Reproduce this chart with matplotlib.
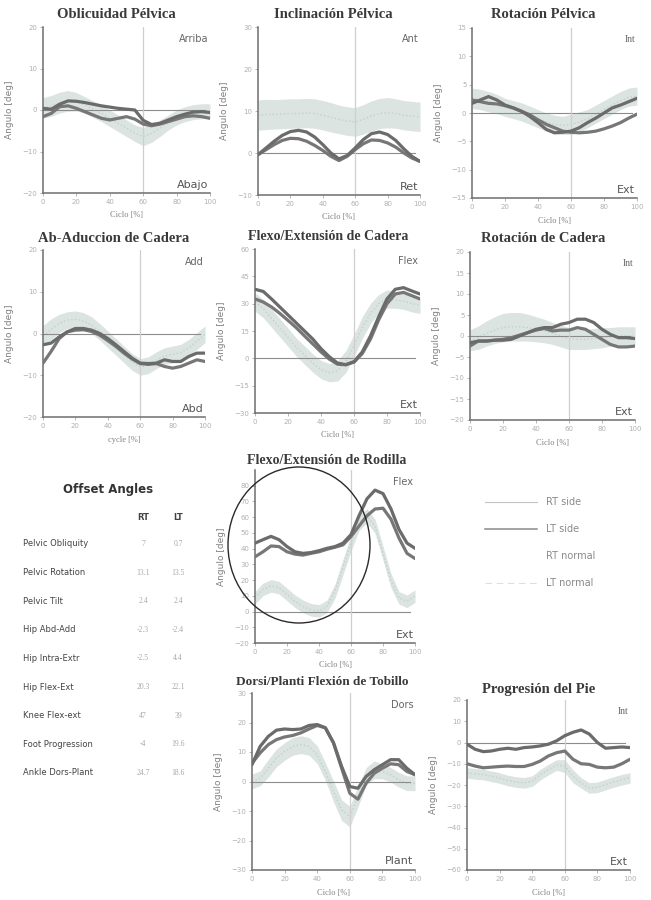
import numpy as np
import matplotlib
matplotlib.use('Agg')
import matplotlib.pyplot as plt
from matplotlib.patches import Ellipse
from matplotlib.lines import Line2D

#========================= Data ===============================================
cycle = np.arange(0, 101, 5)

# Oblicuidad Pelvica
obl_rt = [0.4, 0.2, 1.4, 2.2, 2.1, 1.8, 1.4, 1.0, 0.7, 0.4, 0.2, 0.0, -2.5, -3.5, -3.2, -2.4, -1.6, -1.0, -0.5, -0.4, -0.6]
obl_lt = [-1.6, -0.8, 0.8, 1.0, 0.4, -0.4, -1.2, -2.0, -2.4, -2.0, -1.6, -2.2, -3.4, -3.8, -3.4, -2.8, -2.2, -1.6, -1.4, -1.6, -2.0]
obl_nm = [0.5, 1.0, 1.8, 2.2, 2.0, 1.2, 0.2, -0.8, -2.0, -3.2, -4.4, -5.6, -6.4, -5.6, -4.4, -3.0, -1.8, -1.0, -0.5, -0.3, -0.3]
obl_sd = [2.5, 2.5, 2.5, 2.5, 2.2, 2.0, 2.0, 2.0, 2.0, 2.0, 2.0, 2.0, 2.2, 2.2, 2.0, 1.8, 1.8, 1.8, 1.8, 1.8, 1.8]

# Inclinacion Pelvica
tilt_rt = [-0.4, 1.2, 2.8, 4.2, 5.1, 5.4, 5.0, 3.8, 2.0, 0.0, -1.4, -0.6, 1.2, 3.2, 4.6, 5.0, 4.4, 3.0, 1.0, -0.8, -2.0]
tilt_lt = [-0.4, 0.8, 2.0, 3.0, 3.5, 3.4, 2.8, 1.8, 0.6, -0.8, -1.8, -0.8, 0.8, 2.2, 3.1, 3.0, 2.4, 1.4, 0.0, -1.2, -2.0]
tilt_nm = [9.0, 9.2, 9.2, 9.3, 9.4, 9.4, 9.5, 9.4, 9.0, 8.5, 8.0, 7.6, 7.4, 8.0, 8.8, 9.4, 9.6, 9.4, 9.0, 8.8, 8.6]
tilt_sd = [3.6, 3.6, 3.5, 3.5, 3.5, 3.5, 3.5, 3.5, 3.5, 3.5, 3.4, 3.4, 3.4, 3.5, 3.6, 3.6, 3.6, 3.5, 3.5, 3.5, 3.5]

# Rotacion Pelvica
prot_rt = [1.7, 2.3, 2.9, 2.3, 1.4, 0.9, 0.3, -0.6, -1.7, -2.9, -3.5, -3.4, -3.2, -2.6, -1.7, -0.9, 0.0, 0.9, 1.4, 2.0, 2.6]
prot_lt = [2.3, 2.0, 1.7, 1.6, 1.3, 0.9, 0.3, -0.3, -1.2, -2.0, -2.6, -3.2, -3.4, -3.5, -3.4, -3.2, -2.8, -2.3, -1.7, -0.9, -0.2]
prot_nm = [2.6, 2.4, 2.0, 1.6, 1.0, 0.6, 0.2, -0.4, -1.0, -1.6, -2.0, -2.2, -2.0, -1.6, -1.0, -0.2, 0.6, 1.4, 2.2, 2.8, 3.0]
prot_sd = [1.8, 1.8, 1.8, 1.7, 1.6, 1.6, 1.6, 1.6, 1.6, 1.6, 1.6, 1.6, 1.8, 1.8, 1.6, 1.6, 1.6, 1.6, 1.6, 1.6, 1.6]

# Ab-Aduccion de Cadera
abd_rt = [-2.7, -2.3, -0.8, 0.4, 1.2, 1.2, 0.8, 0.0, -1.2, -2.7, -4.3, -5.9, -7.1, -7.2, -7.1, -6.3, -6.7, -6.7, -5.5, -4.7, -4.7]
abd_lt = [-7.1, -4.3, -1.2, 0.4, 0.8, 0.9, 0.5, -0.4, -1.7, -3.1, -4.7, -6.1, -7.2, -7.4, -7.2, -7.9, -8.3, -7.9, -7.1, -6.3, -6.7]
abd_nm = [-0.6, 1.0, 2.4, 3.2, 3.4, 3.0, 2.0, 0.4, -1.4, -3.2, -5.0, -6.8, -8.0, -7.6, -6.4, -5.4, -5.0, -4.6, -3.4, -1.8, -0.2]
abd_sd = [2.5, 2.5, 2.2, 2.0, 2.0, 2.0, 2.0, 2.0, 2.0, 2.0, 2.0, 2.0, 2.0, 2.0, 2.0, 2.0, 2.0, 2.0, 2.0, 2.0, 2.0]

# Flexo/Extension de Cadera
hflx_rt = [37.9, 36.7, 32.6, 28.2, 23.8, 19.4, 15.0, 10.6, 5.3, 0.9, -2.6, -3.5, -1.8, 3.5, 12.3, 22.9, 32.6, 37.9, 38.8, 37.0, 35.3]
hflx_lt = [32.6, 30.9, 28.2, 24.7, 20.8, 16.8, 12.3, 7.9, 3.5, -0.4, -3.2, -3.5, -2.1, 2.6, 10.6, 21.2, 30.0, 35.3, 36.2, 34.4, 32.6]
hflx_nm = [30.9, 27.3, 22.0, 16.8, 11.5, 6.2, 1.8, -2.6, -6.2, -7.9, -7.0, -1.8, 7.0, 16.8, 24.7, 30.0, 32.6, 32.0, 31.4, 30.0, 29.1]
hflx_sd = [5.0, 5.0, 5.0, 5.0, 5.0, 5.0, 5.0, 5.0, 5.0, 5.0, 5.5, 6.0, 6.0, 6.0, 5.5, 5.0, 5.0, 4.5, 4.5, 4.5, 4.5]

# Rotacion de Cadera
hrot_rt = [-1.6, -1.2, -1.2, -1.0, -1.0, -0.8, 0.0, 0.8, 1.6, 2.0, 2.0, 2.8, 3.2, 4.0, 4.0, 3.2, 1.6, 0.4, -0.4, -0.4, -0.6]
hrot_lt = [-2.4, -1.2, -1.2, -1.0, -0.8, -0.4, 0.2, 0.8, 1.4, 1.8, 1.2, 1.4, 1.4, 2.0, 1.6, 0.4, -0.8, -2.0, -2.6, -2.6, -2.4]
hrot_nm = [-1.0, -0.4, 0.6, 1.4, 2.0, 2.2, 2.2, 2.0, 1.6, 1.2, 0.6, 0.0, -0.6, -0.8, -0.8, -0.6, -0.4, -0.2, 0.0, 0.0, 0.0]
hrot_sd = [2.5, 2.8, 3.0, 3.2, 3.4, 3.4, 3.4, 3.2, 3.0, 2.8, 2.6, 2.6, 2.6, 2.4, 2.4, 2.4, 2.4, 2.2, 2.2, 2.2, 2.2]

# Flexo/Extension de Rodilla
knee_rt = [43.5, 45.7, 47.8, 45.7, 41.3, 38.0, 37.0, 37.5, 38.7, 40.2, 41.3, 43.5, 48.9, 60.9, 71.7, 77.2, 75.0, 65.2, 52.2, 43.5, 40.2]
knee_lt = [34.8, 38.0, 41.7, 41.3, 38.0, 36.5, 35.9, 37.0, 38.0, 39.6, 40.9, 42.4, 47.8, 54.3, 60.9, 65.2, 65.7, 58.7, 46.7, 37.0, 33.7]
knee_nm = [8.7, 14.1, 16.3, 15.2, 10.9, 6.5, 3.3, 1.1, 0.4, 3.3, 13.0, 28.3, 43.5, 56.5, 60.9, 54.3, 37.0, 19.6, 8.7, 6.5, 9.8]
knee_sd = [4.0, 4.0, 4.0, 4.0, 4.0, 4.0, 4.0, 4.0, 4.0, 4.0, 4.5, 5.0, 5.0, 5.0, 4.5, 4.5, 4.5, 4.5, 4.0, 4.0, 4.0]

# Dorsi/Planti Flexion de Tobillo
ank_rt = [5.7, 11.9, 15.3, 17.4, 17.8, 17.6, 17.8, 19.0, 19.3, 18.2, 13.1, 5.1, -1.7, -2.3, 1.7, 4.0, 5.7, 7.4, 7.4, 4.5, 2.3]
ank_lt = [6.2, 9.7, 12.5, 14.2, 15.1, 15.6, 16.5, 17.8, 19.0, 18.2, 13.1, 4.5, -4.0, -6.0, -0.6, 2.8, 4.5, 6.0, 5.7, 3.4, 2.3]
ank_nm = [0.0, 1.1, 4.5, 8.0, 10.2, 11.9, 12.5, 11.9, 9.1, 3.4, -3.4, -9.7, -11.9, -5.1, 1.7, 4.0, 3.4, 2.3, 0.6, -0.6, -0.6]
ank_sd = [2.5, 2.5, 3.0, 3.0, 3.0, 3.0, 3.0, 3.0, 3.0, 3.0, 3.5, 3.5, 3.5, 3.5, 3.0, 3.0, 2.5, 2.5, 2.5, 2.5, 2.5]

# Progresion del Pie
foot_rt = [-0.8, -3.2, -4.3, -4.0, -3.2, -2.7, -3.2, -2.4, -2.1, -1.6, -0.8, 0.8, 3.2, 4.8, 5.9, 4.0, 0.0, -2.7, -2.4, -2.1, -2.4]
foot_lt = [-10.0, -11.1, -11.9, -11.6, -11.3, -11.1, -11.3, -11.3, -10.3, -8.7, -6.3, -4.8, -4.0, -7.9, -10.0, -10.3, -11.6, -11.9, -11.6, -10.0, -7.9]
foot_nm = [-14.3, -14.8, -15.1, -15.9, -16.7, -17.9, -18.6, -19.0, -18.2, -15.1, -12.7, -10.6, -11.1, -15.9, -19.0, -21.4, -21.1, -19.8, -18.6, -17.5, -16.7]
foot_sd = [2.5, 2.5, 2.5, 2.5, 2.5, 2.5, 2.5, 2.5, 2.5, 2.5, 2.5, 2.5, 3.0, 3.0, 2.5, 2.5, 2.5, 2.5, 2.5, 2.5, 2.5]

# Offset angles table
offset_names = ['Pelvic Obliquity', 'Pelvic Rotation', 'Pelvic Tilt', 'Hip Abd-Add',
                'Hip Intra-Extr', 'Hip Flex-Ext', 'Knee Flex-ext', 'Foot Progression',
                'Ankle Dors-Plant']
offset_rt = ['7', '13.1', '2.4', '-2.3', '-2.5', '20.3', '47', '-4', '24.7']
offset_lt = ['0.7', '13.5', '2.4', '-2.4', '4.4', '22.1', '39', '19.6', '18.6']

legend_labels = ['RT side', 'LT side', 'RT normal', 'LT normal']

#========================= Figure ============================================
W, H = 651, 900
fig = plt.figure(figsize=(W / 100, H / 100), dpi=100)
fig.patch.set_facecolor('white')

SERIF = 'Liberation Serif'
SANS = 'DejaVu Sans'


def fx(x):
    return x / W


def fy(y):
    return 1 - y / H


def panel(box, title, tpos, rt, lt, nm, sd, ylim, yticks, top_lbl, bot_lbl,
          xlabel='Ciclo [%]', tsize=10.5, top_serif=False):
    l, t, r, b = box
    ax = fig.add_axes([fx(l), fy(b), fx(r - l), (b - t) / H])
    nm = np.array(nm)
    sd = np.array(sd)
    ax.fill_between(cycle, nm - sd, nm + sd, color='#dbe4e0', lw=0, zorder=1)
    ax.plot(cycle, nm, color='#c3d0ca', lw=1.0, ls=':', zorder=2)
    ax.axhline(0, xmin=0, xmax=0.97, color='#8c8c8c', lw=0.8, zorder=2)
    ax.axvline(60, color='#cfcfcf', lw=0.9, zorder=2)
    ax.plot(cycle, rt, color='#6b6b6b', lw=2.3, zorder=4, solid_capstyle='round')
    ax.plot(cycle, lt, color='#777777', lw=2.3, zorder=3, solid_capstyle='round')
    ax.set_xlim(0, 100)
    ax.set_ylim(*ylim)
    ax.set_xticks([0, 20, 40, 60, 80, 100])
    ax.set_yticks(yticks)
    for s in ['top', 'right']:
        ax.spines[s].set_visible(False)
    for s in ['left', 'bottom']:
        ax.spines[s].set_color('#6e6e6e')
        ax.spines[s].set_linewidth(1.1)
    ax.tick_params(length=2, width=0.6, color='#aaaaaa', labelsize=5,
                   labelcolor='#b0b0b0', pad=2)
    ax.set_ylabel('Angulo [deg]', fontsize=6.5, color='#808080', family=SANS, labelpad=6)
    ax.set_xlabel(xlabel, fontsize=6, color='#808080', family=SERIF, labelpad=5)
    ax.text(0.99, 0.96, top_lbl, transform=ax.transAxes, ha='right', va='top',
            fontsize=7, color='#666666', family=SERIF if top_serif else SANS)
    ax.text(0.99, 0.02, bot_lbl, transform=ax.transAxes, ha='right', va='bottom',
            fontsize=8, color='#555555', family=SANS)
    fig.text(fx(tpos[0]), fy(tpos[1]), title, ha='center', va='center',
             fontsize=tsize, fontweight='bold', family=SERIF, color='#3a3a3a')
    return ax


#========================= Row 1: pelvis =====================================
panel((43, 27, 210, 193), 'Oblicuidad Pélvica', (116, 15), obl_rt, obl_lt, obl_nm, obl_sd,
      (-20, 20), [-20, -10, 0, 10, 20], 'Arriba', 'Abajo')
panel((258, 27, 420, 195), 'Inclinación Pélvica', (333, 15), tilt_rt, tilt_lt, tilt_nm, tilt_sd,
      (-10, 30), [-10, 0, 10, 20, 30], 'Ant', 'Ret')
panel((472, 28, 637, 198), 'Rotación Pélvica', (543, 15), prot_rt, prot_lt, prot_nm, prot_sd,
      (-15, 15), [-15, -10, -5, 0, 5, 10, 15], 'Int', 'Ext', top_serif=True)

#========================= Row 2: hip ========================================
panel((43, 250, 205, 417), 'Ab-Aduccion de Cadera', (114, 239), abd_rt, abd_lt, abd_nm, abd_sd,
      (-20, 20), [-20, -10, 0, 10, 20], 'Add', 'Abd', xlabel='cycle [%]')
hax = panel((255, 249, 420, 413), 'Flexo/Extensión de Cadera', (328, 236), hflx_rt, hflx_lt, hflx_nm, hflx_sd,
            (-30, 60), [-30, -15, 0, 15, 30, 45, 60], 'Flex', 'Ext', tsize=10)
panel((470, 252, 635, 420), 'Rotación de Cadera', (543, 239), hrot_rt, hrot_lt, hrot_nm, hrot_sd,
      (-20, 20), [-20, -15, -10, -5, 0, 5, 10, 15, 20], 'Int', 'Ext', top_serif=True)

#========================= Row 3: knee + table + legend ======================
panel((255, 470, 415, 643), 'Flexo/Extensión de Rodilla', (327, 461), knee_rt, knee_lt, knee_nm, knee_sd,
      (-20, 90), [-20, -10, 0, 10, 20, 30, 40, 50, 60, 70, 80], 'Flex', 'Ext', tsize=10)
fig.add_artist(Ellipse((fx(299), fy(545)), 142 / W, 156 / H, transform=fig.transFigure,
                       fill=False, edgecolor='#2a2a2a', lw=1.0, zorder=10))

fig.text(fx(108), fy(490), 'Offset Angles', ha='center', va='center', fontsize=8.5,
         fontweight='bold', family=SANS, color='#333333')
fig.text(fx(143), fy(517), 'RT', ha='center', va='center', fontsize=6, fontweight='bold',
         family=SANS, color='#444444')
fig.text(fx(178), fy(517), 'LT', ha='center', va='center', fontsize=6, fontweight='bold',
         family=SANS, color='#444444')
for i, name in enumerate(offset_names):
    y = 544 + i * 28.6
    fig.text(fx(23), fy(y), name, ha='left', va='center', fontsize=6, family=SANS, color='#444444')
    fig.text(fx(143), fy(y), offset_rt[i], ha='center', va='center', fontsize=5.5, family=SERIF,
             color='#a8a8a8')
    fig.text(fx(178), fy(y), offset_lt[i], ha='center', va='center', fontsize=5.5, family=SERIF,
             color='#a8a8a8')

leg_style = [dict(color='#c4c4c4', lw=0.8, ls='-'),
             dict(color='#8a8a8a', lw=1.1, ls='-'),
             dict(color='#ffffff', lw=0.8, ls='-'),
             dict(color='#dedede', lw=0.8, ls=(0, (6, 4)))]
for i, lab in enumerate(legend_labels):
    y = 502 + i * 27
    fig.add_artist(Line2D([fx(485), fx(537)], [fy(y), fy(y)], transform=fig.transFigure, **leg_style[i]))
    fig.text(fx(546), fy(y), lab, ha='left', va='center', fontsize=7, family=SANS, color='#8a8a8a')

#========================= Row 4: ankle + foot ===============================
panel((252, 693, 415, 870), 'Dorsi/Planti Flexión de Tobillo', (322, 682), ank_rt, ank_lt, ank_nm, ank_sd,
      (-30, 30), [-30, -20, -10, 0, 10, 20, 30], 'Dors', 'Plant', tsize=9.5)
panel((467, 700, 630, 870), 'Progresión del Pie', (539, 690), foot_rt, foot_lt, foot_nm, foot_sd,
      (-60, 20), [-60, -50, -40, -30, -20, -10, 0, 10, 20], 'Int', 'Ext', top_serif=True)

fig.savefig('out.png', dpi=100, facecolor='white')
